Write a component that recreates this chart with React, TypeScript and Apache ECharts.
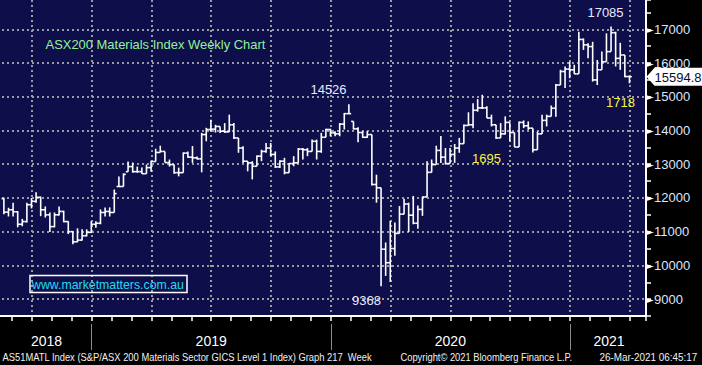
import React, { useEffect, useRef } from "react";
import * as echarts from "echarts";

// Weekly OHLC bars, AS51MATL Index, Aug 2018 – Mar 2021
const opens = [
  11980, 11580, 11650, 11590, 11220, 11300, 11800, 11900, 12020, 11650,
  11500, 11150, 11500, 11600, 11300, 11000, 10700, 10750, 10880, 10980,
  11220, 11250, 11570, 11600, 11570, 12340, 12340, 12780, 12930, 12780,
  12780, 12720, 12900, 13080, 13350, 13380, 13050, 12990, 12750, 12750,
  13330, 13210, 13190, 13160, 13880, 14030, 14040, 14120, 13980, 13960,
  14170, 13780, 13480, 13090, 13040, 12940, 13240, 13380, 13480, 13290,
  12920, 13090, 12750, 13020, 13040, 13450, 13430, 13380, 13680, 13380,
  13800, 14030, 13930, 13900, 14190, 14500, 14270, 14050, 13940, 13800,
  13880, 12400, 12300, 10480, 10080, 10500, 10950, 11520, 11820, 11490,
  11250, 11660, 12030, 12760, 12990, 13410, 13210, 13020, 13290, 13480,
  13610, 14150, 14170, 14600, 14670, 14670, 14370, 14170, 13780, 13900,
  14240, 13940, 13510, 14240, 14140, 14070, 13430, 13900, 14300, 14420,
  14660, 15350, 15750, 15820, 15800, 15680, 16700, 16540, 16490, 15500,
  15800, 16040, 16340, 16900, 16140, 16240, 15600,
];
const highs = [
  12010, 11710, 11860, 11610, 11380, 11860, 12000, 12170, 12040, 11750,
  11570, 11570, 11750, 11620, 11310, 11010, 11100, 11070, 11070, 11310,
  11310, 11660, 11720, 11720, 12250, 12640, 12730, 13080, 13050, 12930,
  12900, 12990, 13100, 13460, 13550, 13380, 13140, 12990, 12900, 13350,
  13380, 13540, 13230, 13930, 14080, 14320, 14170, 14120, 14220, 14470,
  14220, 13780, 13530, 13090, 13090, 13260, 13430, 13630, 13630, 13380,
  13120, 13190, 13040, 13240, 13480, 13480, 13480, 13730, 13730, 13930,
  14050, 14050, 13980, 14220, 14520, 14780, 14270, 14100, 13980, 13980,
  13880, 12690, 12300, 10680, 11320, 11270, 11760, 11980, 11860, 12060,
  11780, 12040, 13090, 13140, 13550, 13840, 13480, 13480, 13600, 13780,
  14180, 14540, 14810, 14930, 15060, 14720, 14470, 14170, 14220, 14420,
  14240, 13940, 14270, 14300, 14270, 14070, 13970, 14470, 14470, 14740,
  15380, 15800, 15900, 16040, 15950, 16930, 16730, 16590, 16630, 16090,
  16340, 16880, 17085, 16930, 16600, 16240, 15620,
];
const lows = [
  11520, 11450, 11450, 11130, 11160, 11270, 11690, 11860, 11460, 11420,
  10990, 11130, 11480, 11280, 10930, 10630, 10690, 10740, 10860, 10960,
  11120, 11220, 11450, 11450, 11570, 12340, 12340, 12780, 12750, 12750,
  12720, 12720, 12780, 13080, 13350, 13050, 12930, 12720, 12640, 12750,
  13190, 13040, 13140, 12760, 13680, 13970, 13940, 13930, 13930, 13960,
  13750, 13340, 13040, 12790, 12550, 12940, 13090, 13340, 13240, 12890,
  12890, 12700, 12750, 12940, 13040, 13140, 13240, 13380, 13140, 13340,
  13800, 13830, 13830, 13830, 14030, 14500, 14030, 13650, 13780, 13780,
  12370, 11860, 9380, 9690, 9510, 10290, 10950, 11520, 10990, 11220,
  11090, 11470, 12030, 12760, 12990, 13040, 12990, 13020, 13040, 13340,
  13610, 14150, 14070, 14560, 14640, 14370, 14120, 13750, 13780, 13880,
  13680, 13510, 13510, 14070, 14020, 13350, 13430, 13900, 14120, 14420,
  14410, 15350, 15260, 15550, 15680, 15680, 16390, 16140, 15450, 15350,
  15800, 16040, 16340, 15900, 15800, 15580, 15400,
];
const closes = [
  11580, 11650, 11590, 11220, 11300, 11800, 11900, 12020, 11650, 11500,
  11150, 11500, 11600, 11300, 11000, 10700, 10750, 10880, 10980, 11220,
  11250, 11570, 11600, 11570, 12130, 12340, 12700, 12930, 12780, 12780,
  12720, 12900, 13080, 13350, 13380, 13050, 12990, 12750, 12750, 13330,
  13210, 13190, 13160, 13880, 14030, 14040, 14120, 13980, 13960, 14170,
  13780, 13480, 13090, 13040, 12940, 13240, 13380, 13480, 13290, 12920,
  13090, 12750, 13020, 13040, 13450, 13430, 13380, 13680, 13380, 13800,
  14030, 13930, 13900, 14190, 14500, 14500, 14050, 13940, 13800, 13880,
  12400, 12300, 10480, 10080, 10500, 10950, 11520, 11820, 11490, 11250,
  11660, 12030, 12760, 12990, 13410, 13210, 13020, 13290, 13480, 13610,
  14150, 14170, 14600, 14670, 14670, 14370, 14170, 13780, 13900, 14240,
  13940, 13510, 14240, 14140, 14070, 13430, 13900, 14300, 14420, 14660,
  15350, 15750, 15820, 15800, 15680, 16700, 16540, 16490, 15500, 15800,
  16040, 16340, 16900, 16140, 16240, 15600, 15594.8,
];

// x axis unit: months since 1 Jan 2018
const firstWeekMonth = 7.6;
const weekInMonths = 12 / 52;
const yearLabels = ["2018", "2019", "2020", "2021"];
const yearLabelMonths = [9.74, 18, 30, 37.96];
const yearStartMonths = [12, 24, 36];

const lastPrice = 15594.8;
const lastPriceText = "15594.8";
const titleText = "ASX200 Materials Index Weekly Chart";
const urlText = "www.marketmatters.com.au";
const highLabel2020 = "14526";
const lowLabel2020 = "9368";
const highLabel2021 = "17085";
const yellowLabelA = "1695";
const yellowLabelB = "1718";
const footerLeft = "AS51MATL Index (S&P/ASX 200 Materials Sector GICS Level 1 Index) Graph 217  Week";
const footerMid = "Copyright\u00a9 2021 Bloomberg Finance L.P.";
const footerRight = "26-Mar-2021 06:45:17";

const FONT = '"Liberation Sans", Arial, sans-serif';
// the chart canvas starts this many px left of the visible page (month 6 sits off-screen)
const SHIFT = 28.5;

function measure(text: string, font: string): number {
  const c = document.createElement("canvas").getContext("2d");
  if (!c) return text.length * 6;
  c.font = font;
  return c.measureText(text).width || text.length * 6;
}

function fitText(text: string, x: number, y: number, width: number, size: number, fill: string) {
  const font = `${size}px ${FONT}`;
  return {
    type: "text",
    x: x + SHIFT,
    y,
    z: 50,
    scaleX: width / measure(text, font),
    style: { text, font, fill, textAlign: "left", textVerticalAlign: "middle" },
  };
}

function centerText(text: string, x: number, y: number, size: number, fill: string) {
  return {
    type: "text",
    x: x + SHIFT,
    y,
    z: 50,
    style: {
      text,
      font: `${size}px ${FONT}`,
      fill,
      textAlign: "center",
      textVerticalAlign: "middle",
    },
  };
}

function buildGraphic(py: number) {
  return [
    fitText(titleText, 45, 44.5, 220, 13, "#94f294"),
    {
      type: "rect",
      z: 50,
      shape: { x: 29.5 + SHIFT, y: 275.5, width: 157, height: 17 },
      style: { fill: "none", stroke: "#ffffff", lineWidth: 1.5 },
    },
    fitText(urlText, 31.5, 284.5, 152, 13, "#22dcf0"),
    centerText(highLabel2020, 328, 89, 13, "#e4eaff"),
    centerText(lowLabel2020, 366, 300, 13, "#e4eaff"),
    centerText(highLabel2021, 605, 12, 13, "#e4eaff"),
    centerText(yellowLabelA, 486, 158, 13, "#f4f43c"),
    centerText(yellowLabelB, 620, 102, 13, "#f4f43c"),
    {
      type: "polygon",
      z: 60,
      x: 645 + SHIFT,
      y: py,
      shape: { points: [[1, 0], [9, -9], [57, -9], [57, 9], [9, 9]] },
      style: { fill: "#ffffff" },
    },
    {
      type: "text",
      z: 61,
      x: 654 + SHIFT,
      y: py + 0.5,
      style: {
        text: lastPriceText,
        font: `13px ${FONT}`,
        fill: "#0a0a30",
        textAlign: "left",
        textVerticalAlign: "middle",
      },
    },
    fitText(footerLeft, 2, 357, 370, 11, "#f0f0f0"),
    fitText(footerMid, 400, 357, 172, 11, "#f0f0f0"),
    fitText(footerRight, 599, 357, 98, 11, "#f0f0f0"),
  ];
}

const barData = opens.map((o, i) => [
  firstWeekMonth + i * weekInMonths,
  o,
  highs[i],
  lows[i],
  closes[i],
]);

const xMin = 6;
const xMax = 39.815;

const option: any = {
  animation: false,
  backgroundColor: "#000000",
  grid: {
    left: 0,
    right: 57,
    top: 0,
    bottom: 49,
    show: true,
    backgroundColor: "#0e0e4b",
    borderWidth: 0,
  },
  xAxis: [
    {
      type: "value",
      min: xMin,
      max: xMax,
      interval: 1,
      position: "bottom",
      axisLine: { show: true, onZero: false, lineStyle: { color: "#ffffff", width: 2 } },
      axisTick: { show: true, length: 5, lineStyle: { color: "#ffffff", width: 1.5 } },
      axisLabel: { show: false },
      splitLine: { show: false },
    },
    {
      type: "value",
      min: xMin,
      max: xMax,
      interval: 3,
      position: "bottom",
      axisLine: { show: false, onZero: false },
      axisTick: { show: false },
      axisLabel: { show: false },
      splitLine: {
        show: true,
        showMinLine: false,
        showMaxLine: false,
        lineStyle: { color: "#9a9aa2", type: [2, 3], width: 2 },
      },
    },
    {
      type: "value",
      min: xMin,
      max: xMax,
      position: "bottom",
      offset: 8,
      axisLine: { show: false, onZero: false },
      axisTick: {
        show: true,
        customValues: yearStartMonths,
        length: 26,
        lineStyle: { color: "#8a8a8a", width: 1 },
      },
      axisLabel: {
        show: true,
        customValues: yearLabelMonths,
        formatter: (v: number) => {
          const k = yearLabelMonths.findIndex((m) => Math.abs(m - v) < 1e-6);
          return k >= 0 ? yearLabels[k] : "";
        },
        margin: 10,
        color: "#ffffff",
        fontSize: 14,
        fontFamily: FONT,
      },
      splitLine: { show: false },
    },
  ],
  yAxis: {
    type: "value",
    position: "right",
    min: 8500,
    max: 17870,
    interval: 500,
    axisLine: { show: true, onZero: false, lineStyle: { color: "#ffffff", width: 2 } },
    axisTick: { show: true, length: 5, lineStyle: { color: "#ffffff", width: 1.5 } },
    axisLabel: {
      margin: 0,
      formatter: (v: number) => (v % 1000 === 0 ? `{a|\u25ba}{b|${v}}` : ""),
      rich: {
        a: { color: "#ffffff", fontSize: 10, fontFamily: "DejaVu Sans", width: 8 },
        b: { color: "#dde6ff", fontSize: 13, fontFamily: FONT },
      },
    },
    splitLine: {
      show: true,
      showMaxLine: false,
      lineStyle: { color: ["rgba(0,0,0,0)", "#9a9aa2"], type: [2, 3], width: 2 },
    },
  },
  series: [
    {
      type: "custom",
      xAxisIndex: 0,
      yAxisIndex: 0,
      clip: true,
      dimensions: ["x", "open", "high", "low", "close"],
      encode: { x: 0, y: [1, 2, 3, 4] },
      data: barData,
      renderItem: (params: any, api: any) => {
        const x = api.value(0);
        const hi = api.coord([x, api.value(2)]);
        const lo = api.coord([x, api.value(3)]);
        const op = api.coord([x, api.value(1)]);
        const cl = api.coord([x, api.value(4)]);
        const half = api.size([weekInMonths, 0])[0] / 2;
        const style = { stroke: "#ffffff", lineWidth: 1.6 };
        return {
          type: "group",
          children: [
            { type: "line", shape: { x1: hi[0], y1: hi[1], x2: lo[0], y2: lo[1] }, style },
            { type: "line", shape: { x1: op[0] - half, y1: op[1], x2: op[0], y2: op[1] }, style },
            { type: "line", shape: { x1: cl[0], y1: cl[1], x2: cl[0] + half, y2: cl[1] }, style },
          ],
        };
      },
    },
  ],
};

export default function App() {
  const ref = useRef<HTMLDivElement>(null);
  useEffect(() => {
    document.body.style.margin = "0";
    const chart = echarts.init(ref.current as HTMLDivElement, null, { renderer: "svg" });
    chart.setOption(option);
    const py = chart.convertToPixel({ yAxisIndex: 0 }, lastPrice) as unknown as number;
    chart.setOption({ graphic: buildGraphic(py) });
    return () => chart.dispose();
  }, []);
  return (
    <div
      style={{
        width: 702,
        height: 365,
        overflow: "hidden",
        position: "relative",
        background: "#000",
      }}
    >
      <div
        ref={ref}
        style={{ position: "absolute", left: -SHIFT, top: 0, width: 702 + SHIFT, height: 365 }}
      />
    </div>
  );
}
